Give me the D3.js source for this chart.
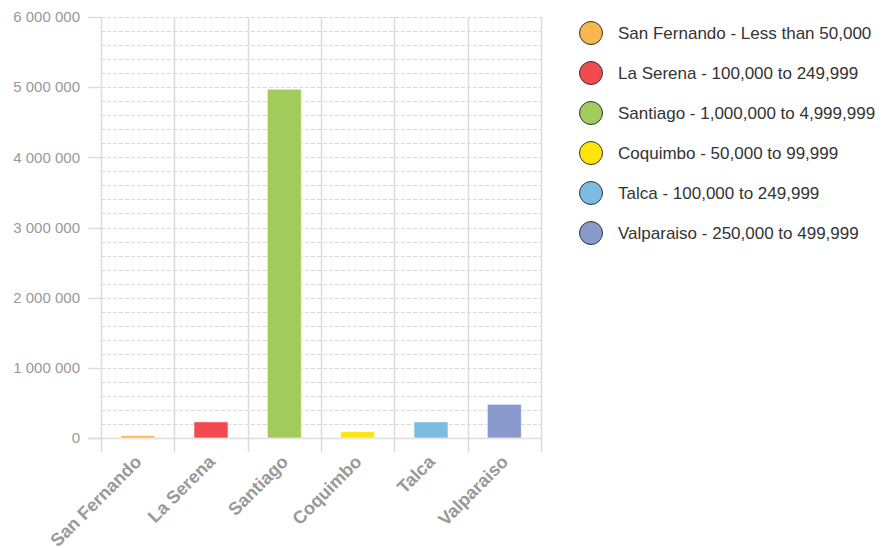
<!DOCTYPE html>
<html>
<head>
<meta charset="utf-8">
<script src="https://cdn.jsdelivr.net/npm/d3@7"></script>
<style>
  body { margin: 0; background: #fff; }
  svg { font-family: "Liberation Sans", Arial, sans-serif; }
</style>
</head>
<body>
<div id="chart"></div>
<script>
// Population par ville (Chili)
const cities = ["San Fernando", "La Serena", "Santiago", "Coquimbo", "Talca", "Valparaiso"];
const population = [35000, 230000, 4970000, 90000, 230000, 480000];
const ranges = ["Less than 50,000", "100,000 to 249,999", "1,000,000 to 4,999,999",
  "50,000 to 99,999", "100,000 to 249,999", "250,000 to 499,999"];
const colors = ["#f8b74e", "#f14a4f", "#a1cb5a", "#ffe40b", "#7bbde2", "#8b9acc"];
const yTicks = [0, 1000000, 2000000, 3000000, 4000000, 5000000, 6000000];

const width = 896, height = 548;
const plotL = 101, plotR = 541, plotT = 17, plotB = 438;

const svg = d3.select("#chart").append("svg")
  .attr("width", width)
  .attr("height", height);

const x = d3.scaleBand().domain(cities).range([plotL, plotR]).paddingInner(0).paddingOuter(0);
const y = d3.scaleLinear().domain([0, 6000000]).range([plotB, plotT]);

const fmt = d3.formatLocale({ decimal: ".", thousands: " ", grouping: [3], currency: ["", ""] }).format(",");

// grille secondaire (pointillés)
const minor = d3.range(0, 6000001, 200000);
svg.append("g").selectAll("line")
  .data(minor)
  .enter().append("line")
  .attr("x1", plotL).attr("x2", plotR)
  .attr("y1", d => Math.round(y(d)) + 0.5).attr("y2", d => Math.round(y(d)) + 0.5)
  .attr("stroke", "#dadada")
  .attr("stroke-dasharray", "4,2");

// lignes verticales
const bounds = cities.map(c => x(c)).concat([plotR]);
svg.append("g").selectAll("line")
  .data(bounds)
  .enter().append("line")
  .attr("x1", d => Math.round(d) + 0.5).attr("x2", d => Math.round(d) + 0.5)
  .attr("y1", plotT).attr("y2", plotB + 14)
  .attr("stroke", "#dcdcdc")
  .attr("stroke-width", 1.5);

// ticks y + labels
const yg = svg.append("g");
yg.selectAll("line")
  .data(yTicks)
  .enter().append("line")
  .attr("x1", 88).attr("x2", plotL)
  .attr("y1", d => Math.round(y(d)) + 0.5).attr("y2", d => Math.round(y(d)) + 0.5)
  .attr("stroke", "#dcdcdc")
  .attr("stroke-width", 1.5);
yg.selectAll("text")
  .data(yTicks)
  .enter().append("text")
  .attr("x", 80)
  .attr("y", d => y(d))
  .attr("dy", "0.35em")
  .attr("text-anchor", "end")
  .style("fill", "#999")
  .style("font-size", "15px")
  .text(d => fmt(d));

// axe du bas
svg.append("line")
  .attr("x1", 88).attr("x2", plotR)
  .attr("y1", plotB + 0.5).attr("y2", plotB + 0.5)
  .attr("stroke", "#dcdcdc")
  .attr("stroke-width", 1.5);

// barres
const barW = 34;
svg.append("g").selectAll("rect")
  .data(cities)
  .enter().append("rect")
  .attr("x", d => x(d) + x.bandwidth() / 2 - barW / 2)
  .attr("width", barW)
  .attr("y", (d, i) => y(population[i]))
  .attr("height", (d, i) => plotB - y(population[i]))
  .style("fill", (d, i) => colors[i])
  .style("stroke", "rgba(255,255,255,0.6)")
  .style("stroke-width", 1);

// labels x
svg.append("g").selectAll("text")
  .data(cities)
  .enter().append("text")
  .attr("transform", d => `translate(${x(d) + x.bandwidth() / 2 + 5},${plotB + 25}) rotate(-45)`)
  .attr("text-anchor", "end")
  .style("fill", "#999")
  .style("font-size", "18px")
  .style("font-weight", "bold")
  .text(d => d);

// légende
const legend = svg.append("g").selectAll("g")
  .data(cities)
  .enter().append("g")
  .attr("transform", (d, i) => `translate(591,${33 + i * 40})`);
legend.append("circle")
  .attr("r", 11.5)
  .style("fill", (d, i) => colors[i])
  .style("stroke", "#333")
  .style("stroke-width", 1);
legend.append("text")
  .attr("x", 27)
  .attr("dy", "0.35em")
  .style("fill", "#333")
  .style("font-size", "17px")
  .text((d, i) => `${d} - ${ranges[i]}`);
</script>
</body>
</html>
